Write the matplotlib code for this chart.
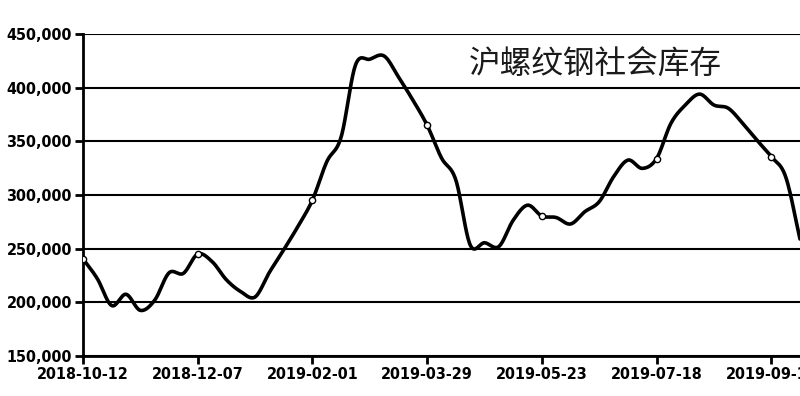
import numpy as np
import matplotlib
matplotlib.use("Agg")
import matplotlib.pyplot as plt

# Weekly inventory readings (tons)
inventory = [240500, 222000, 197000, 207500, 192500, 202000, 227500, 227000,
             245000, 238000, 221000, 210000, 205000, 228000, 249000, 271000,
             295300, 331000, 354000, 421000, 426500, 429500, 410000, 388500,
             365000, 334500, 314000, 253500, 255500, 252000, 276500, 290500,
             280400, 279000, 273000, 284500, 293800, 317000, 332500, 324800,
             334000, 366800, 383800, 394000, 383800, 380800, 366800, 351000,
             335700, 317000, 259000]
tick_labels = ['2018-10-12', '2018-12-07', '2019-02-01', '2019-03-29',
               '2019-05-23', '2019-07-18', '2019-09-12']
tick_step = 8
title = '沪螺纹钢社会库存'

y = np.array(inventory, dtype=float)
x = np.arange(len(y), dtype=float)

# Catmull-Rom curve through the points, for the smoothed line look
def smooth(x, y, n=20):
    px = np.concatenate([[2 * x[0] - x[1]], x, [2 * x[-1] - x[-2]]])
    py = np.concatenate([[2 * y[0] - y[1]], y, [2 * y[-1] - y[-2]]])
    t = np.linspace(0, 1, n, endpoint=False)
    xs, ys = [], []
    for i in range(1, len(px) - 2):
        for p, out in ((px, xs), (py, ys)):
            p0, p1, p2, p3 = p[i - 1], p[i], p[i + 1], p[i + 2]
            out.append(0.5 * (2 * p1 + (-p0 + p2) * t
                              + (2 * p0 - 5 * p1 + 4 * p2 - p3) * t ** 2
                              + (-p0 + 3 * p1 - 3 * p2 + p3) * t ** 3))
    xs.append([x[-1]])
    ys.append([y[-1]])
    return np.concatenate(xs), np.concatenate(ys)

sx, sy = smooth(x, y)

fig = plt.figure(figsize=(8, 3.96), dpi=100)
ax = fig.add_axes([83 / 800, 1 - 356 / 396, 1 - 83 / 800, (356 - 34) / 396])

ax.set_ylim(150000, 450000)
ax.set_xlim(0, 50)
ax.set_yticks(np.arange(150000, 450001, 50000))
ax.yaxis.set_major_formatter(matplotlib.ticker.FuncFormatter(lambda v, p: f'{int(v):,}'))
ax.grid(axis='y', color='black', linewidth=1.5)
ax.set_axisbelow(True)

ax.plot(sx, sy, color='black', linewidth=2.6, solid_capstyle='round', zorder=3, clip_on=True)
mk = x[::tick_step]
ax.plot(mk, y[::tick_step], 'o', markersize=4.5, markerfacecolor='white',
        markeredgecolor='black', markeredgewidth=1.0, zorder=4)

ax.set_xticks(mk)
ax.set_xticklabels(tick_labels)

for s in ['top', 'right']:
    ax.spines[s].set_visible(False)
for s in ['left', 'bottom']:
    ax.spines[s].set_linewidth(2)
ax.tick_params(axis='both', length=6, width=2, direction='out', pad=2)
for lab in ax.get_xticklabels() + ax.get_yticklabels():
    lab.set_fontfamily('DejaVu Sans')
    lab.set_fontstretch('condensed')
    lab.set_fontweight('bold')
    lab.set_fontsize(11.5)

ax.text(0.538, 0.905, title, transform=ax.transAxes, fontsize=22.8,
        family=['Noto Sans CJK SC', 'DejaVu Sans'], color='#1a1a1a',
        ha='left', va='center')

fig.savefig('out.png', dpi=100)
